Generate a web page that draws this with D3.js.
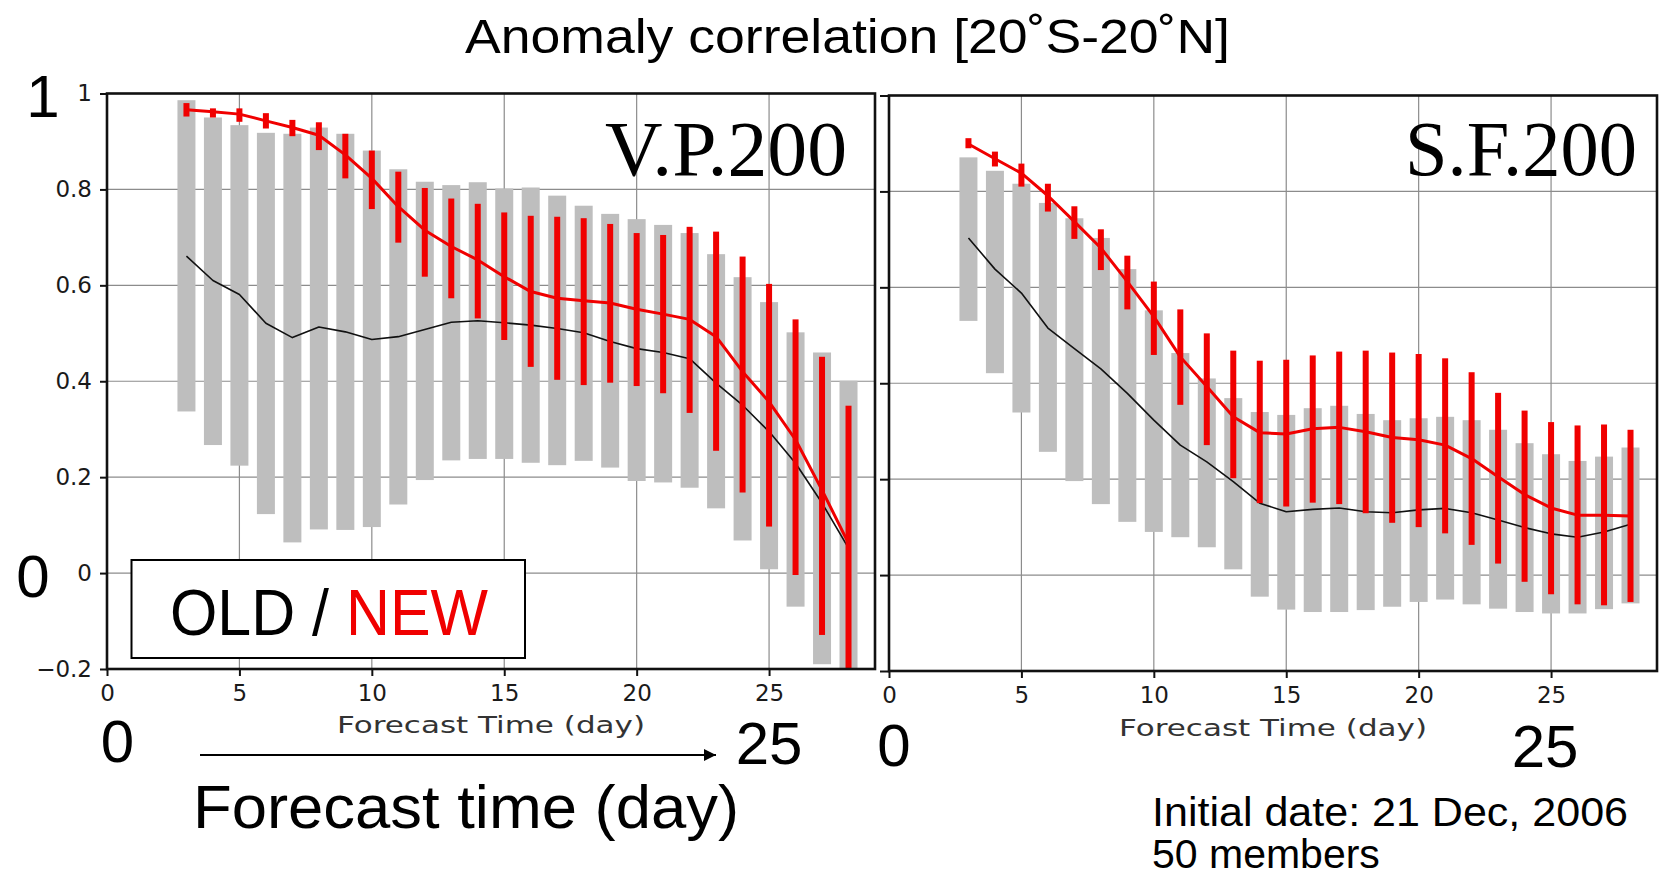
<!DOCTYPE html>
<html>
<head>
<meta charset="utf-8">
<script src="https://cdn.jsdelivr.net/npm/d3@7"></script>
<style>
  html, body { margin: 0; padding: 0; background: #fff; }
  svg { display: block; }
</style>
</head>
<body>
<svg id="chart" width="1663" height="878"></svg>
<script>
// ---------------- DATA ----------------
const days = [3,4,5,6,7,8,9,10,11,12,13,14,15,16,17,18,19,20,21,22,23,24,25,26,27,28];
const xTicks = [0,5,10,15,20,25];
const yTicks = [-0.2,0,0.2,0.4,0.6,0.8,1];
const yTickLabels = ["\u22120.2","0","0.2","0.4","0.6","0.8","1"];

// V.P.200 (left panel)
const vpOldMax  = [0.986,0.950,0.934,0.918,0.916,0.929,0.916,0.881,0.842,0.816,0.809,0.815,0.802,0.804,0.787,0.766,0.749,0.738,0.726,0.709,0.665,0.617,0.565,0.502,0.460,0.401];
const vpOldMin  = [0.337,0.267,0.224,0.123,0.064,0.091,0.090,0.096,0.143,0.194,0.235,0.238,0.238,0.230,0.225,0.234,0.220,0.192,0.189,0.178,0.135,0.068,0.008,-0.070,-0.190,-0.200];
const vpOldMean = [0.661,0.610,0.581,0.521,0.491,0.513,0.503,0.487,0.493,0.508,0.523,0.526,0.522,0.517,0.510,0.501,0.483,0.468,0.460,0.447,0.396,0.350,0.295,0.229,0.146,0.052];
const vpNewMean = [0.966,0.962,0.957,0.943,0.929,0.913,0.872,0.823,0.764,0.715,0.681,0.653,0.618,0.587,0.573,0.568,0.563,0.550,0.540,0.529,0.493,0.420,0.357,0.278,0.173,0.062];
const vpNewMax  = [0.980,0.969,0.969,0.959,0.945,0.940,0.916,0.881,0.837,0.803,0.781,0.770,0.752,0.745,0.743,0.740,0.728,0.709,0.705,0.722,0.712,0.660,0.603,0.529,0.451,0.349];
const vpNewMin  = [0.952,0.950,0.941,0.927,0.911,0.882,0.823,0.759,0.689,0.618,0.573,0.531,0.486,0.430,0.403,0.392,0.397,0.390,0.375,0.334,0.255,0.168,0.097,-0.004,-0.129,-0.200];

// S.F.200 (right panel)
const sfOldMax  = [0.871,0.843,0.816,0.776,0.744,0.703,0.638,0.552,0.463,0.410,0.369,0.340,0.334,0.348,0.353,0.336,0.323,0.327,0.330,0.323,0.303,0.275,0.252,0.238,0.247,0.266];
const sfOldMin  = [0.530,0.421,0.339,0.257,0.196,0.148,0.111,0.090,0.079,0.058,0.012,-0.045,-0.072,-0.077,-0.077,-0.073,-0.066,-0.056,-0.051,-0.061,-0.070,-0.077,-0.080,-0.080,-0.071,-0.059];
const sfOldMean = [0.703,0.638,0.588,0.515,0.472,0.430,0.379,0.323,0.271,0.236,0.195,0.150,0.132,0.137,0.140,0.132,0.130,0.136,0.139,0.130,0.115,0.099,0.086,0.079,0.090,0.106];
const sfNewMean = [0.899,0.868,0.838,0.791,0.737,0.682,0.612,0.539,0.455,0.393,0.330,0.297,0.294,0.305,0.308,0.299,0.287,0.282,0.271,0.243,0.205,0.168,0.140,0.125,0.125,0.123];
const sfNewMax  = [0.911,0.883,0.858,0.816,0.769,0.721,0.666,0.612,0.554,0.504,0.468,0.447,0.449,0.458,0.466,0.468,0.464,0.461,0.452,0.423,0.380,0.343,0.319,0.312,0.314,0.303];
const sfNewMin  = [0.890,0.852,0.810,0.758,0.701,0.636,0.554,0.459,0.355,0.271,0.202,0.150,0.143,0.151,0.148,0.129,0.109,0.100,0.087,0.063,0.024,-0.014,-0.040,-0.061,-0.063,-0.056];

// ---------------- DRAW ----------------
const svg = d3.select("#chart");
const RED = "#f00000", GRAY = "#bebebe";
const sansBig = "Tahoma, 'Liberation Sans', Arial, sans-serif";
const sansTick = "'DejaVu Sans', sans-serif";

function panel(cfg) {
  const x = d3.scaleLinear().domain([0, 29]).range([cfg.x0, cfg.x1]);
  const y = d3.scaleLinear().domain([-0.2, 1]).range([cfg.y0, cfg.y1]);
  const g = svg.append("g");
  const clipId = "clip" + cfg.id;
  svg.append("clipPath").attr("id", clipId).append("rect")
    .attr("x", cfg.x0).attr("y", cfg.y1).attr("width", cfg.x1 - cfg.x0).attr("height", cfg.y0 - cfg.y1);

  // grid
  g.append("g").selectAll("line").data(xTicks.filter(d => d > 0)).join("line")
    .attr("x1", d => x(d)).attr("x2", d => x(d)).attr("y1", y(-0.2)).attr("y2", y(1))
    .attr("stroke", "#8c8c8c").attr("stroke-width", 1.2);
  g.append("g").selectAll("line").data(yTicks.filter(d => d > -0.2 && d < 1)).join("line")
    .attr("x1", x(0)).attr("x2", x(29)).attr("y1", d => y(d)).attr("y2", d => y(d))
    .attr("stroke", "#8c8c8c").attr("stroke-width", 1.2);

  const data = days.map((d, i) => ({
    d, oMax: cfg.oldMax[i], oMin: cfg.oldMin[i], oMean: cfg.oldMean[i],
    nMax: cfg.newMax[i], nMin: cfg.newMin[i], nMean: cfg.newMean[i]
  }));
  const dg = g.append("g").attr("clip-path", `url(#${clipId})`);

  // OLD spread bars
  dg.append("g").selectAll("rect").data(data).join("rect")
    .attr("x", d => x(d.d) - 9).attr("width", 18)
    .attr("y", d => y(d.oMax)).attr("height", d => y(d.oMin) - y(d.oMax))
    .attr("fill", GRAY);
  // OLD mean line
  dg.append("path").datum(data)
    .attr("d", d3.line().x(d => x(d.d)).y(d => y(d.oMean)))
    .attr("fill", "none").attr("stroke", "#111").attr("stroke-width", 1.6)
    .attr("stroke-linejoin", "round");
  // NEW spread bars
  dg.append("g").selectAll("rect").data(data).join("rect")
    .attr("x", d => x(d.d) - 3).attr("width", 6)
    .attr("y", d => y(d.nMax)).attr("height", d => y(d.nMin) - y(d.nMax))
    .attr("fill", RED);
  // NEW mean line
  dg.append("path").datum(data)
    .attr("d", d3.line().x(d => x(d.d)).y(d => y(d.nMean)))
    .attr("fill", "none").attr("stroke", RED).attr("stroke-width", 3)
    .attr("stroke-linejoin", "round");

  // axes
  const ax = g.append("g").attr("transform", `translate(0,${cfg.y0})`)
    .call(d3.axisBottom(x).tickValues(xTicks).tickSize(7).tickSizeOuter(0).tickFormat(d3.format("d")));
  ax.select(".domain").remove();
  ax.selectAll(".tick line").attr("stroke", "#111").attr("stroke-width", 2);
  ax.selectAll(".tick text").attr("font-family", sansTick).attr("font-size", 23)
    .attr("fill", "#1a1a1a").attr("dy", null).attr("y", cfg.xLabelY - cfg.y0);

  const ay = g.append("g").attr("transform", `translate(${cfg.x0},0)`)
    .call(d3.axisLeft(y).tickValues(yTicks).tickSize(cfg.yTickLen).tickSizeOuter(0)
      .tickFormat((d, i) => cfg.showYLabels ? yTickLabels[i] : ""));
  ay.select(".domain").remove();
  ay.selectAll(".tick line").attr("stroke", "#111").attr("stroke-width", 2);
  ay.selectAll(".tick text").attr("font-family", sansTick).attr("font-size", 23)
    .attr("fill", "#1a1a1a").attr("x", -15);

  // frame
  g.append("rect").attr("x", cfg.x0).attr("y", cfg.y1)
    .attr("width", cfg.x1 - cfg.x0).attr("height", cfg.y0 - cfg.y1)
    .attr("fill", "none").attr("stroke", "#111").attr("stroke-width", 2.6);

  // small axis title
  g.append("text").attr("x", x(14.5)).attr("y", cfg.xTitleY)
    .attr("text-anchor", "middle").attr("font-family", sansTick).attr("font-size", 23)
    .attr("fill", "#333").attr("textLength", 308).attr("lengthAdjust", "spacingAndGlyphs")
    .text("Forecast Time (day)");

  // panel label
  g.append("text").attr("x", cfg.labelX).attr("y", 175).attr("text-anchor", "end")
    .attr("font-family", "'Liberation Serif', 'Times New Roman', serif").attr("font-size", 78)
    .attr("fill", "#000").attr("textLength", cfg.labelW).attr("lengthAdjust", "spacingAndGlyphs")
    .text(cfg.label);
  return { x, y };
}

panel({ id: "L", x0: 107, x1: 875, y0: 669, y1: 93.5, yTickLen: 7, showYLabels: true,
  xLabelY: 701, xTitleY: 733, labelX: 847, labelW: 242, label: "V.P.200",
  oldMax: vpOldMax, oldMin: vpOldMin, oldMean: vpOldMean,
  newMax: vpNewMax, newMin: vpNewMin, newMean: vpNewMean });

panel({ id: "R", x0: 889, x1: 1657, y0: 671, y1: 95.5, yTickLen: 9, showYLabels: false,
  xLabelY: 703, xTitleY: 736, labelX: 1637, labelW: 232, label: "S.F.200",
  oldMax: sfOldMax, oldMin: sfOldMin, oldMean: sfOldMean,
  newMax: sfNewMax, newMin: sfNewMin, newMean: sfNewMean });

// Title
svg.append("text").attr("x", 465).attr("y", 53)
  .attr("font-family", sansBig).attr("font-size", 48).attr("fill", "#000")
  .attr("textLength", 765).attr("lengthAdjust", "spacingAndGlyphs")
  .text("Anomaly correlation [20\u02daS-20\u02daN]");

// Legend box
svg.append("rect").attr("x", 131.5).attr("y", 560).attr("width", 393.5).attr("height", 98)
  .attr("fill", "#fff").attr("stroke", "#000").attr("stroke-width", 2);
const leg = svg.append("text").attr("x", 170).attr("y", 635)
  .attr("font-family", sansBig).attr("font-size", 64)
  .attr("textLength", 318).attr("lengthAdjust", "spacingAndGlyphs");
leg.append("tspan").attr("fill", "#000").text("OLD / ");
leg.append("tspan").attr("fill", RED).text("NEW");

// Big annotation numbers
const big = [
  { t: "1", x: 43, y: 117 },
  { t: "0", x: 33, y: 597 },
  { t: "0", x: 117.5, y: 762 },
  { t: "25", x: 769, y: 764 },
  { t: "0", x: 894, y: 766 },
  { t: "25", x: 1545, y: 767 }
];
svg.append("g").selectAll("text").data(big).join("text")
  .attr("x", d => d.x).attr("y", d => d.y).attr("text-anchor", "middle")
  .attr("font-family", sansBig).attr("font-size", 60).attr("fill", "#000")
  .text(d => d.t);

// Arrow
svg.append("defs").append("marker").attr("id", "arr")
  .attr("viewBox", "0 0 10 10").attr("refX", 10).attr("refY", 5)
  .attr("markerWidth", 8).attr("markerHeight", 6).attr("markerUnits", "strokeWidth")
  .attr("orient", "auto")
  .append("path").attr("d", "M0,0 L10,5 L0,10 Z").attr("fill", "#000");
svg.append("line").attr("x1", 200).attr("x2", 716).attr("y1", 755).attr("y2", 755)
  .attr("stroke", "#000").attr("stroke-width", 2).attr("marker-end", "url(#arr)");

// Bottom axis caption
svg.append("text").attr("x", 193).attr("y", 828)
  .attr("font-family", sansBig).attr("font-size", 62).attr("fill", "#000")
  .attr("textLength", 546).attr("lengthAdjust", "spacingAndGlyphs")
  .text("Forecast time (day)");

// Notes
svg.append("text").attr("x", 1152).attr("y", 826)
  .attr("font-family", sansBig).attr("font-size", 41).attr("fill", "#000")
  .attr("textLength", 476).attr("lengthAdjust", "spacingAndGlyphs")
  .text("Initial date: 21 Dec, 2006");
svg.append("text").attr("x", 1152).attr("y", 868)
  .attr("font-family", sansBig).attr("font-size", 41).attr("fill", "#000")
  .text("50 members");
</script>
</body>
</html>
